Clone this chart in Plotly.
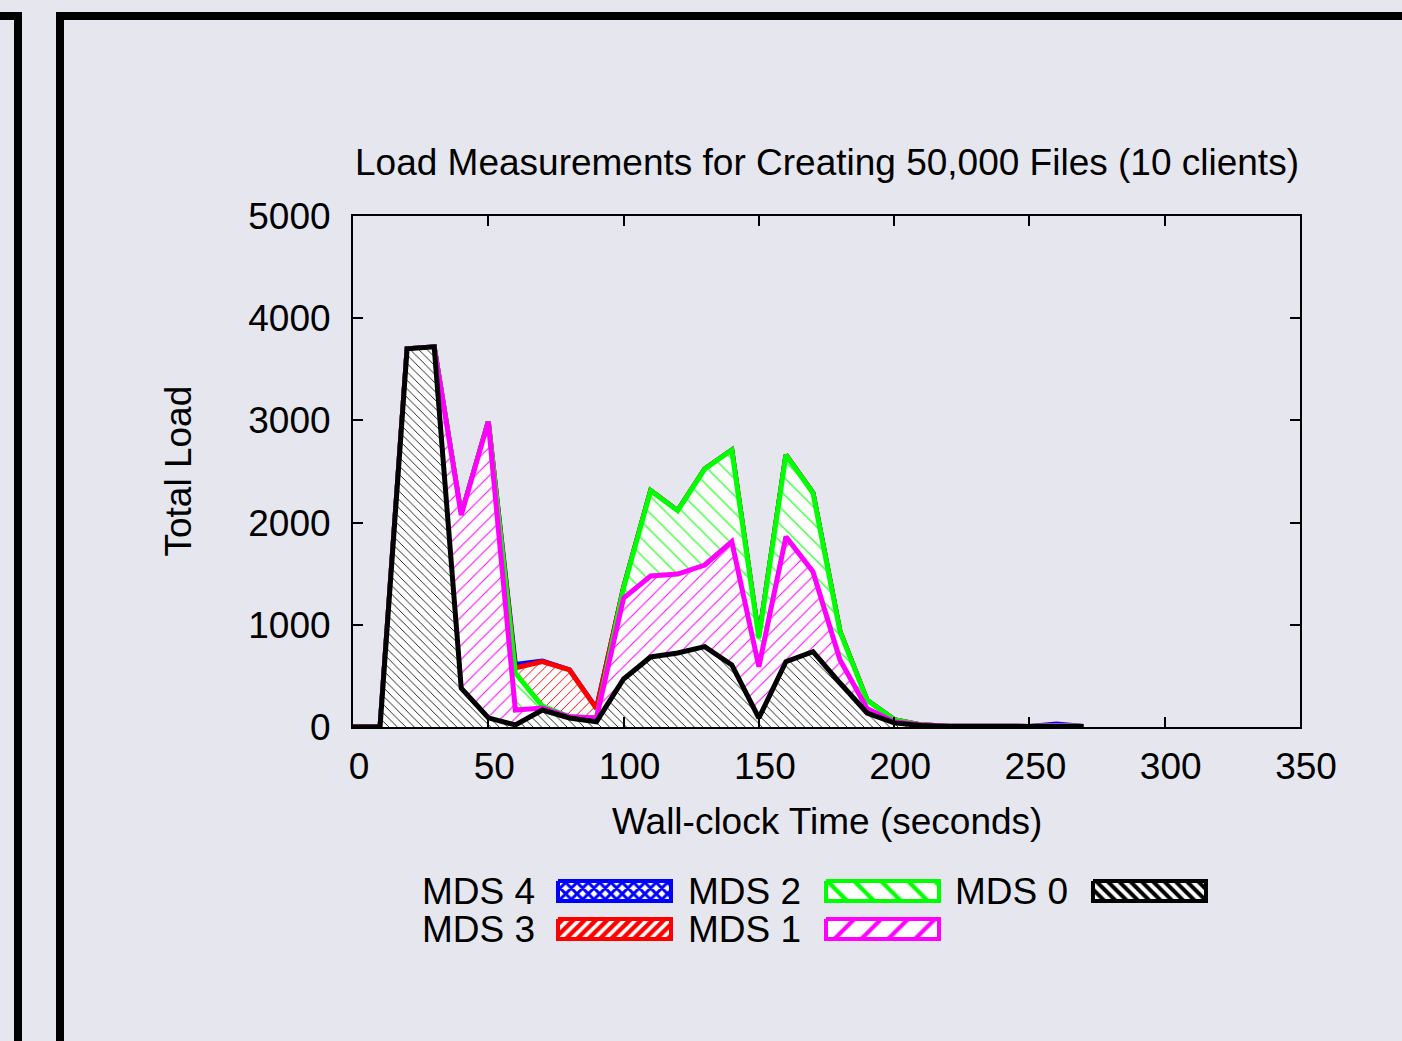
import numpy as np
import plotly.graph_objects as go

# ---------------- data ----------------
times = [0, 10, 20, 30, 40, 50, 60, 70, 80, 90, 100, 110, 120, 130,
         140, 150, 160, 170, 180, 190, 200, 210, 220, 230, 240, 250, 260, 270]
mds0 = [0, 0, 3700, 3720, 380, 90, 20, 166, 88, 52, 470, 685, 724, 786,
        607, 88, 639, 737, 430, 137, 40, 15, 6, 5, 5, 5, 5, 5]
mds1 = [0, 0, 0, 0, 1694, 2898, 146, 20, 12, 36, 792, 792, 773, 799,
        1206, 502, 1223, 783, 225, 45, 12, 4, 2, 1, 1, 1, 8, 1]
mds2 = [0, 0, 0, 0, 0, 0, 362, 19, 0, 2, 98, 835, 620, 939,
        897, 280, 799, 770, 278, 79, 20, 2, 0, 0, 0, 0, 2, 0]
mds3 = [0, 0, 0, 0, 0, 0, 49, 435, 458, 90, 5, 0, 0, 0,
        0, 0, 0, 0, 0, 0, 0, 0, 0, 0, 0, 0, 0, 0]
mds4 = [0, 0, 0, 0, 0, 0, 35, 5, 0, 0, 0, 0, 0, 0,
        0, 0, 0, 0, 0, 0, 0, 0, 0, 0, 0, 0, 15, 0]

series_names = ["MDS 0", "MDS 1", "MDS 2", "MDS 3", "MDS 4"]
series_vals = [mds0, mds1, mds2, mds3, mds4]
x_ticks = [0, 50, 100, 150, 200, 250, 300, 350]
y_ticks = [0, 1000, 2000, 3000, 4000, 5000]

title_text = "Load Measurements for Creating 50,000 Files (10 clients)"
x_title = "Wall-clock Time (seconds)"
y_title = "Total Load"

# ---------------- styles ----------------
W, H = 1402, 1041
BG = "#E5E6EE"
FONT = "Liberation Sans, Arial, Helvetica, sans-serif"
FS = 37
colors = {"MDS 0": "#000000", "MDS 1": "#FF00FF", "MDS 2": "#00FF00",
          "MDS 3": "#FF0000", "MDS 4": "#0000FF"}
# (shape, size, solidity) in chart / in legend swatch
patterns = {"MDS 0": ("\\", 6, 0.14), "MDS 1": ("/", 10, 0.1),
            "MDS 2": ("\\", 12, 0.09), "MDS 3": ("/", 7, 0.14),
            "MDS 4": ("x", 6, 0.2)}
swatch_patterns = {"MDS 0": ("\\", 8, 0.5), "MDS 1": ("/", 19, 0.22),
                   "MDS 2": ("\\", 19, 0.22), "MDS 3": ("/", 8, 0.55),
                   "MDS 4": ("x", 8, 0.6)}

# plot area in pixels
PX0, PX1, PY0, PY1 = 353, 1300, 216, 727

cum = np.cumsum(np.array(series_vals, dtype=float), axis=0)

fig = go.Figure()

# draw top-of-stack first so lower layers overwrite (gnuplot style)
for i in reversed(range(len(series_names))):
    name = series_names[i]
    c = colors[name]
    shp, sz, sol = patterns[name]
    fig.add_trace(go.Scatter(
        x=times, y=cum[i], mode="lines", name=name, showlegend=False,
        line=dict(color=c, width=5),
        fill="tozeroy",
        fillpattern=dict(shape=shp, size=sz, solidity=sol, fgcolor=c,
                         bgcolor="white", fillmode="replace", fgopacity=1),
        xaxis="x", yaxis="y", hoverinfo="skip"))

# ---------------- custom legend (pixel overlay axes) ----------------
legend_layout = [  # name, text right edge, swatch left, row y center
    ("MDS 4", 537, 558, 891), ("MDS 3", 537, 558, 929),
    ("MDS 2", 803, 826, 891), ("MDS 1", 803, 826, 929),
    ("MDS 0", 1070, 1093, 891),
]
SW_W, SW_H = 113, 20
annotations = []
for name, tx, sx, cy in legend_layout:
    c = colors[name]
    shp, sz, sol = swatch_patterns[name]
    fig.add_trace(go.Scatter(
        x=[sx, sx + SW_W, sx + SW_W, sx, sx],
        y=[cy - SW_H / 2, cy - SW_H / 2, cy + SW_H / 2, cy + SW_H / 2, cy - SW_H / 2],
        mode="lines", fill="toself", showlegend=False, hoverinfo="skip",
        line=dict(color=c, width=4),
        fillpattern=dict(shape=shp, size=sz, solidity=sol, fgcolor=c,
                         bgcolor="white", fillmode="replace"),
        xaxis="x2", yaxis="y2"))
    annotations.append(dict(x=tx, y=cy, xref="x2", yref="y2", text=name,
                            showarrow=False, xanchor="right", yanchor="middle",
                            font=dict(size=FS, color="black", family=FONT)))

annotations += [
    dict(x=(PX0 + PX1) / 2, y=162, xref="x2", yref="y2", text=title_text,
         showarrow=False, xanchor="center", yanchor="middle",
         font=dict(size=FS, color="black", family=FONT)),
    dict(x=(PX0 + PX1) / 2, y=821, xref="x2", yref="y2", text=x_title,
         showarrow=False, xanchor="center", yanchor="middle",
         font=dict(size=FS, color="black", family=FONT)),
    dict(x=178, y=(PY0 + PY1) / 2, xref="x2", yref="y2", text=y_title,
         showarrow=False, xanchor="center", yanchor="middle", textangle=-90,
         font=dict(size=FS, color="black", family=FONT)),
]

# frames (decorative page borders)
shapes = [
    dict(type="line", xref="x2", yref="y2", x0=18, x1=18, y0=16, y1=H + 10, line=dict(color="black", width=8)),
    dict(type="line", xref="x2", yref="y2", x0=-5, x1=22, y0=16, y1=16, line=dict(color="black", width=8)),
    dict(type="line", xref="x2", yref="y2", x0=60, x1=60, y0=16, y1=H + 10, line=dict(color="black", width=8)),
    dict(type="line", xref="x2", yref="y2", x0=56, x1=W + 10, y0=16, y1=16, line=dict(color="black", width=8)),
]

axis_common = dict(showline=True, linecolor="black", linewidth=2, mirror="ticks",
                   ticks="inside", ticklen=10, tickwidth=1.5, tickcolor="black",
                   showgrid=False, zeroline=False, automargin=False,
                   tickfont=dict(size=FS, color="black", family=FONT))

fig.update_layout(
    template="none",
    width=W, height=H, autosize=False,
    margin=dict(l=0, r=0, t=0, b=0, pad=0, autoexpand=False),
    paper_bgcolor=BG, plot_bgcolor="rgba(0,0,0,0)",
    showlegend=False,
    font=dict(family=FONT, size=FS, color="black"),
    xaxis=dict(domain=[PX0 / W, PX1 / W], range=[0, 350], tickvals=x_ticks,
               ticktext=[str(v) for v in x_ticks], anchor="y", ticklabelstandoff=6,
               ticklabelshift=6, **axis_common),
    yaxis=dict(domain=[(H - PY1) / H, (H - PY0) / H], range=[0, 5000], tickvals=y_ticks,
               ticktext=[str(v) for v in y_ticks], anchor="x", ticklabelstandoff=13,
               **axis_common),
    xaxis2=dict(domain=[0, 1], range=[0, W], visible=False, anchor="y2",
                fixedrange=True, automargin=False),
    yaxis2=dict(domain=[0, 1], range=[H, 0], visible=False, anchor="x2",
                fixedrange=True, automargin=False),
    annotations=annotations,
    shapes=shapes,
)

fig.write_html("out.html", config={"displayModeBar": False},
               post_script="document.body.style.margin='0';document.body.style.overflow='hidden';")
